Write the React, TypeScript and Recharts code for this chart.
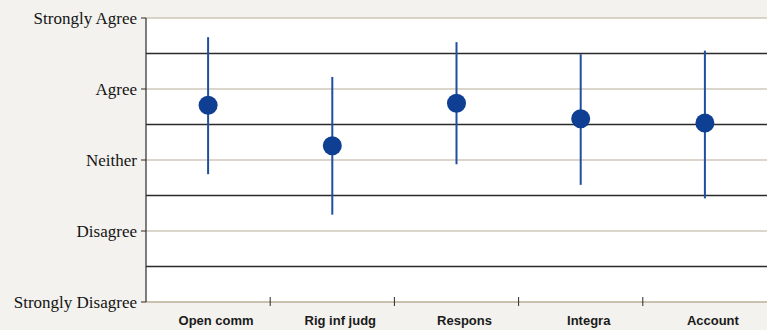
import React from 'react';
import { ScatterChart, Scatter, XAxis, YAxis, CartesianGrid, ReferenceLine, ErrorBar } from 'recharts';

const categories = ['Open comm', 'Rig inf judg', 'Respons', 'Integra', 'Account'];
const means = [3.77, 3.2, 3.8, 3.58, 3.52];
const upper = [4.73, 4.17, 4.66, 4.49, 4.54];
const lower = [2.8, 2.23, 2.94, 2.65, 2.46];
const scaleLabels = ['Strongly Disagree', 'Disagree', 'Neither', 'Agree', 'Strongly Agree'];
const scaleValues = [1, 2, 3, 4, 5];
const dividerValues = [1.5, 2.5, 3.5, 4.5];

const data = categories.map((c, i) => ({
  x: i,
  name: c,
  mean: means[i],
  err: [means[i] - lower[i], upper[i] - means[i]],
}));

const xTicks: number[] = [];
categories.forEach((_, i) => {
  xTicks.push(i);
  if (i < categories.length - 1) xTicks.push(i + 0.5);
});

const TAN = '#BAAE96';
const DARK = '#2a2a2a';

const XTick = (props: any) => {
  const { x, y, payload } = props;
  const v = payload.value;
  if (Number.isInteger(v)) {
    return (
      <text x={x + 8} y={y + 23} textAnchor="middle" fontFamily="'Liberation Sans', Arial, sans-serif" fontWeight="bold" fontSize={13} fill="#1a1a1a">
        {categories[v]}
      </text>
    );
  }
  return <line x1={x} x2={x} y1={y - 5} y2={y + 4} stroke={DARK} strokeWidth={1} />;
};

const Dot = (props: any) => {
  const { cx, cy } = props;
  return <circle cx={cx} cy={cy} r={9.5} fill="#0F3F92" />;
};

export default function App() {
  return (
    <div style={{ position: 'absolute', left: 0, top: 0, width: 767, height: 330, background: '#F3F2EE' }}>
      <ScatterChart width={767} height={330} margin={{ top: 18, right: 0, bottom: 0, left: 0 }}>
        <CartesianGrid vertical={false} stroke={TAN} strokeWidth={1.2} fill="#ffffff" />
        {dividerValues.map((v) => (
          <ReferenceLine key={v} y={v} stroke={DARK} strokeWidth={1.6} />
        ))}
        <XAxis
          type="number"
          dataKey="x"
          domain={[-0.5, 4.5]}
          ticks={xTicks}
          interval={0}
          tick={<XTick />}
          tickLine={false}
          tickSize={0}
          tickMargin={0}
          axisLine={{ stroke: TAN, strokeWidth: 1.2 }}
          height={28}
        />
        <YAxis
          type="number"
          dataKey="mean"
          domain={[1, 5]}
          ticks={scaleValues}
          interval={0}
          width={146}
          tickFormatter={(v: number) => scaleLabels[v - 1]}
          tick={{ fontFamily: "'Liberation Serif', 'Times New Roman', serif", fontSize: 17, fill: '#141414' }}
          tickLine={{ stroke: DARK }}
          tickSize={5}
          tickMargin={4}
          axisLine={{ stroke: DARK, strokeWidth: 1.2 }}
        />
        <Scatter data={data} dataKey="mean" shape={<Dot />} isAnimationActive={false}>
          <ErrorBar dataKey="err" direction="y" width={0} stroke="#1F4FA0" strokeWidth={2} isAnimationActive={false} />
        </Scatter>
      </ScatterChart>
    </div>
  );
}
